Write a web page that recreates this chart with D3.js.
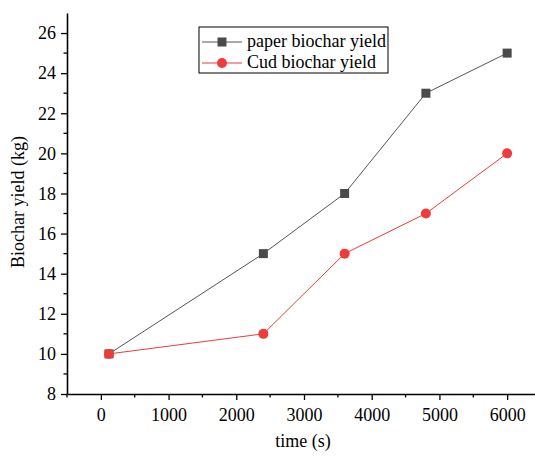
<!DOCTYPE html>
<html>
<head>
<meta charset="utf-8">
<script src="https://cdn.jsdelivr.net/npm/d3@7"></script>
<style>
    body { margin: 0; background: #fff; }
</style>
</head>
<body>
<div id="chart"></div>
<script>
// Data
const TIMES = [120, 2400, 3600, 4800, 6000];
const PAPER_YIELD = [10, 15, 18, 23, 25];
const CUD_YIELD = [10, 11, 15, 17, 20];
const X_TICKS = [0, 1000, 2000, 3000, 4000, 5000, 6000];
const Y_TICKS = [8, 10, 12, 14, 16, 18, 20, 22, 24, 26];
const SERIES_NAMES = ["paper biochar yield", "Cud biochar yield"];

const FONT = "'Liberation Serif', 'Times New Roman', serif";
const width = 535;
const height = 457;
const margin = {top: 13, right: -6, bottom: 63, left: 67};

const svg = d3.select("#chart")
    .append("svg")
    .attr("width", width)
    .attr("height", height)
    .style("display", "block");

const innerWidth = width - margin.left - margin.right;
const innerHeight = height - margin.top - margin.bottom;

const xScale = d3.scaleLinear()
    .domain([-500, 6500])
    .range([0, innerWidth]);

const yScale = d3.scaleLinear()
    .domain([8, 27])
    .range([innerHeight, 0]);

const root = svg.append("g")
    .attr("transform", `translate(${margin.left}, ${margin.top})`);

// minor ticks
const xMinor = d3.range(-500, 6501, 1000);
const yMinor = d3.range(9, 27, 2);

const xAxis = root.append("g")
    .attr("transform", `translate(0, ${innerHeight})`);
xAxis.call(d3.axisBottom(xScale).tickValues(X_TICKS).tickFormat(d3.format("d"))
    .tickSize(6).tickSizeOuter(0).tickPadding(8));
xAxis.selectAll(".minor")
    .data(xMinor)
  .enter().append("line")
    .attr("x1", d => xScale(d)).attr("x2", d => xScale(d))
    .attr("y1", 0).attr("y2", 3.5)
    .attr("stroke", "#000").attr("stroke-width", 1.3);

const yAxis = root.append("g");
yAxis.call(d3.axisLeft(yScale).tickValues(Y_TICKS).tickFormat(d3.format("d"))
    .tickSize(6).tickSizeOuter(0).tickPadding(5));
yAxis.selectAll(".minor")
    .data(yMinor)
  .enter().append("line")
    .attr("y1", d => yScale(d)).attr("y2", d => yScale(d))
    .attr("x1", 0).attr("x2", -3.5)
    .attr("stroke", "#000").attr("stroke-width", 1.3);

root.selectAll(".domain").attr("stroke-width", 1.6);
root.selectAll(".tick line").attr("stroke-width", 1.3);
root.selectAll(".tick text")
    .style("font-family", FONT)
    .style("font-size", "18px")
    .attr("fill", "#000");

// axis titles
svg.append("text")
    .attr("x", 303)
    .attr("y", 447)
    .attr("text-anchor", "middle")
    .style("font-family", FONT)
    .style("font-size", "18px")
    .text("time (s)");

svg.append("text")
    .attr("transform", "translate(24, 202) rotate(-90)")
    .attr("text-anchor", "middle")
    .style("font-family", FONT)
    .style("font-size", "18px")
    .text("Biochar yield (kg)");

// lines
const paperData = TIMES.map((t, i) => ({x: t, y: PAPER_YIELD[i]}));
const cudData = TIMES.map((t, i) => ({x: t, y: CUD_YIELD[i]}));

const line = d3.line()
    .x(d => xScale(d.x))
    .y(d => yScale(d.y));

const paperColor = "#4a4a4a";
const cudColor = "#ef3b3b";

root.append("path")
    .datum(paperData)
    .attr("fill", "none")
    .attr("stroke", "#555")
    .attr("stroke-width", 1)
    .attr("d", line);

root.selectAll(".sq")
    .data(paperData)
  .enter().append("rect")
    .attr("x", d => xScale(d.x) - 4.5)
    .attr("y", d => yScale(d.y) - 4.5)
    .attr("width", 9)
    .attr("height", 9)
    .attr("fill", paperColor);

root.append("path")
    .datum(cudData)
    .attr("fill", "none")
    .attr("stroke", cudColor)
    .attr("stroke-width", 1)
    .attr("d", line);

root.selectAll(".dot")
    .data(cudData)
  .enter().append("circle")
    .attr("cx", d => xScale(d.x))
    .attr("cy", d => yScale(d.y))
    .attr("r", 5)
    .attr("fill", cudColor);

// legend
const legend = svg.append("g")
    .attr("transform", "translate(199, 27)");

legend.append("rect")
    .attr("width", 189)
    .attr("height", 46)
    .attr("fill", "#fff")
    .attr("stroke", "#000")
    .attr("stroke-width", 1);

SERIES_NAMES.forEach((name, i) => {
    const y = 15 + i * 21;
    const color = i === 0 ? "#555" : cudColor;
    legend.append("line")
        .attr("x1", 3).attr("x2", 43)
        .attr("y1", y).attr("y2", y)
        .attr("stroke", color)
        .attr("stroke-width", 1);
    if (i === 0) {
        legend.append("rect")
            .attr("x", 23 - 4.5).attr("y", y - 4.5)
            .attr("width", 9).attr("height", 9)
            .attr("fill", paperColor);
    } else {
        legend.append("circle")
            .attr("cx", 23).attr("cy", y)
            .attr("r", 5)
            .attr("fill", cudColor);
    }
    legend.append("text")
        .attr("x", 48)
        .attr("y", y + 5)
        .style("font-family", FONT)
        .style("font-size", "18px")
        .text(name);
});
</script>
</body>
</html>
